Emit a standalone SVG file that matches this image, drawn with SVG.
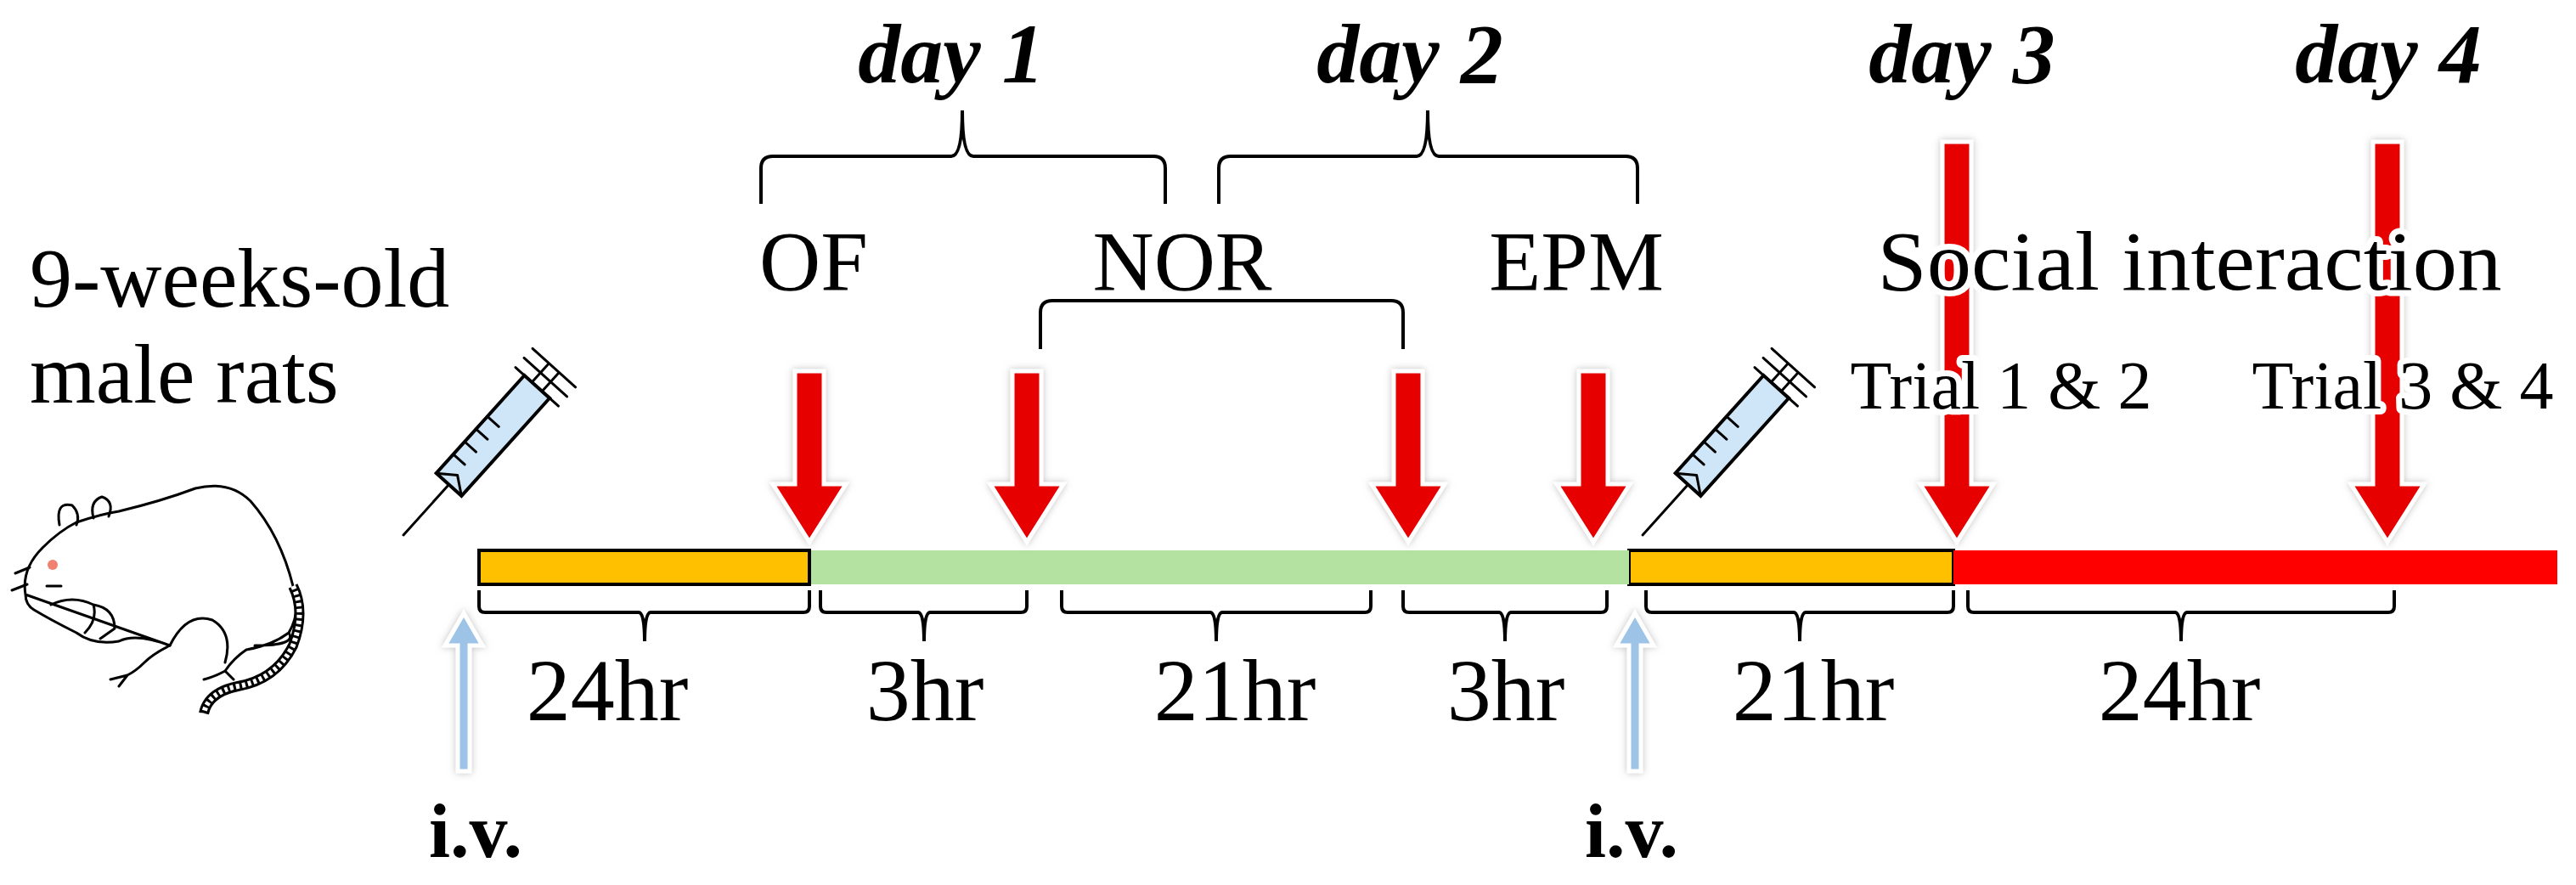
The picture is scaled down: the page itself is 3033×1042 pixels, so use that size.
<svg xmlns="http://www.w3.org/2000/svg" width="3033" height="1042" viewBox="0 0 3033 1042">
<defs>
<style>
.t{font-family:"Liberation Serif",serif;fill:#000}
.br{fill:none;stroke:#000;stroke-width:4}
.halo{paint-order:stroke;stroke:#fff;stroke-width:14;stroke-linejoin:round}
.ra{fill:#e60000;stroke:#fff;stroke-width:5;filter:url(#sh)}
.ba{fill:#9dc3e6;stroke:#fff;stroke-width:5;filter:url(#sh)}
.ln{fill:none;stroke:#000;stroke-width:3;stroke-linejoin:round;stroke-linecap:round}
</style>
<filter id="sh" x="-50%" y="-20%" width="200%" height="140%"><feDropShadow dx="0" dy="0" stdDeviation="4" flood-color="#999" flood-opacity="0.6"/></filter>
<g id="syr">
<line class="ln" x1="0" y1="0" x2="0" y2="-80"/>
<path d="M-20,-80 H20 V-235 H-20 Z" fill="#cfe6f8" stroke="#000" stroke-width="4"/>
<path class="ln" d="M-20,-80 L0,-95 L20,-80 M-20,-110 H-2 M-20,-130 H-2 M-20,-150 H-2 M-20,-170 H-2"/>
<path class="ln" d="M-34,-235 H34 M-34,-250 H34 M-34,-265 H34 M-8,-235 V-265 M8,-235 V-265"/>
</g>
</defs>
<rect width="3033" height="1042" fill="#fff"/>

<g id="days" class="t" font-weight="bold" font-style="italic" font-size="100" text-anchor="middle">
<text x="1120" y="97">day 1</text>
<text x="1660" y="97">day 2</text>
<text x="2310" y="97">day 3</text>
<text x="2812" y="97">day 4</text>
</g>
<g id="braces-top">
<path class="br" d="M896,240 V198 Q896,184 910,184 H1120 Q1133,184 1133,130 Q1133,184 1146,184 H1358 Q1372,184 1372,198 V240"/>
<path class="br" d="M1435,240 V198 Q1435,184 1449,184 H1668 Q1681,184 1681,130 Q1681,184 1694,184 H1914 Q1928,184 1928,198 V240"/>
<path class="br" d="M1225,411 V368 Q1225,354 1239,354 H1638 Q1652,354 1652,368 V411"/>
</g>

<g id="timeline">
<rect x="1918" y="648" width="382" height="40" fill="#ffc000" stroke="#000" stroke-width="4"/>
<rect x="953" y="648" width="965" height="40" fill="#b4e2a1"/>
<rect x="2300" y="648" width="711" height="40" fill="#ff0000"/>
<rect x="564" y="648" width="389" height="40" fill="#ffc000" stroke="#000" stroke-width="4"/>
</g>

<g id="connectors">
<path class="ra" d="M936,437 H970 V570 H996 L953,638 L910,570 H936 Z"/>
<path class="ra" d="M1192,437 H1226 V570 H1252 L1209,638 L1166,570 H1192 Z"/>
<path class="ra" d="M1641,437 H1675 V570 H1701 L1658,638 L1615,570 H1641 Z"/>
<path class="ra" d="M1859,437 H1893 V570 H1919 L1876,638 L1833,570 H1859 Z"/>
<path class="ra" d="M2287,167 H2321 V570 H2347 L2304,638 L2261,570 H2287 Z"/>
<path class="ra" d="M2794,167 H2828 V570 H2854 L2811,638 L2768,570 H2794 Z"/>
<path class="ba" d="M539,908 H553 V760 H568 L546,722 L524,760 H539 Z"/>
<path class="ba" d="M1918,908 H1932 V760 H1947 L1925,722 L1903,760 H1918 Z"/>
</g>

<g id="labels" class="t" font-size="100" text-anchor="middle">
<text x="958" y="341">OF</text>
<text x="1392" y="341">NOR</text>
<text x="1856" y="341">EPM</text>
<text x="2578" y="341" class="halo" textLength="735" lengthAdjust="spacingAndGlyphs">Social interaction</text>
<text x="2356" y="481" font-size="80" class="halo">Trial 1 &amp; 2</text>
<text x="2829" y="481" font-size="80" class="halo">Trial 3 &amp; 4</text>
<text x="35" y="361" text-anchor="start">9-weeks-old</text>
<text x="35" y="474" text-anchor="start">male rats</text>
</g>

<g id="hours">
<path class="br" d="M564,695 V714 Q564,721 571,721 H752 Q759,721 759,755 Q759,721 766,721 H946 Q953,721 953,714 V695"/>
<path class="br" d="M966,695 V714 Q966,721 973,721 H1081 Q1088,721 1088,755 Q1088,721 1095,721 H1202 Q1209,721 1209,714 V695"/>
<path class="br" d="M1250,695 V714 Q1250,721 1257,721 H1425 Q1432,721 1432,755 Q1432,721 1439,721 H1607 Q1614,721 1614,714 V695"/>
<path class="br" d="M1652,695 V714 Q1652,721 1659,721 H1765 Q1772,721 1772,755 Q1772,721 1779,721 H1885 Q1892,721 1892,714 V695"/>
<path class="br" d="M1938,695 V714 Q1938,721 1945,721 H2112 Q2119,721 2119,755 Q2119,721 2126,721 H2293 Q2300,721 2300,714 V695"/>
<path class="br" d="M2317,695 V714 Q2317,721 2324,721 H2561 Q2568,721 2568,755 Q2568,721 2575,721 H2812 Q2819,721 2819,714 V695"/>
<g class="t" font-size="104" text-anchor="middle">
<text x="715" y="848">24hr</text>
<text x="1089" y="848">3hr</text>
<text x="1454" y="848">21hr</text>
<text x="1773" y="848">3hr</text>
<text x="2135" y="848">21hr</text>
<text x="2566" y="848">24hr</text>
</g>
<g class="t" font-size="90" font-weight="bold" text-anchor="middle">
<text x="560" y="1009">i.v.</text>
<text x="1921" y="1009">i.v.</text>
</g>
</g>

<g id="syringe1" transform="translate(475,630) rotate(42)"><use href="#syr"/></g>
<g id="syringe2" transform="translate(1934,630) rotate(42)"><use href="#syr"/></g>

<g id="rat">
<path class="ln" fill="#fff" d="M30,700 Q25,670 50,645 Q70,625 90,615 Q120,605 140,602 Q190,590 230,575 Q270,565 295,590 Q330,630 345,690 Q355,720 340,745 Q320,760 290,765 Q275,775 265,790 Q250,798 240,800 M265,790 L275,800 M340,745 Q350,760 300,760 M200,760 Q180,770 170,780 Q160,790 150,795 L130,800 M150,795 L140,808 M200,760 Q160,745 140,755 Q110,760 90,745 Q60,730 40,718 Q30,712 30,700 Z"/>
<path class="ln" d="M70,618 Q65,590 85,595 Q95,605 90,618 M110,610 Q105,590 120,585 Q135,590 128,608"/>
<circle cx="62" cy="665" r="6" fill="#f08070"/>
<path class="ln" d="M55,690 H72 M60,712 Q85,700 110,712 Q115,730 100,745 M110,712 Q135,716 135,740 L118,752 M18,675 L35,668 M14,695 L32,688 M200,760 Q220,720 250,730 Q275,745 265,780"/>
<path d="M345,690 Q360,720 345,760 Q325,800 280,808 Q245,815 240,840" fill="none" stroke="#000" stroke-width="12"/>
<path d="M345,690 Q360,720 345,760 Q325,800 280,808 Q245,815 240,840" fill="none" stroke="#fff" stroke-width="6" stroke-dasharray="4 3"/>
</g>
</svg>
